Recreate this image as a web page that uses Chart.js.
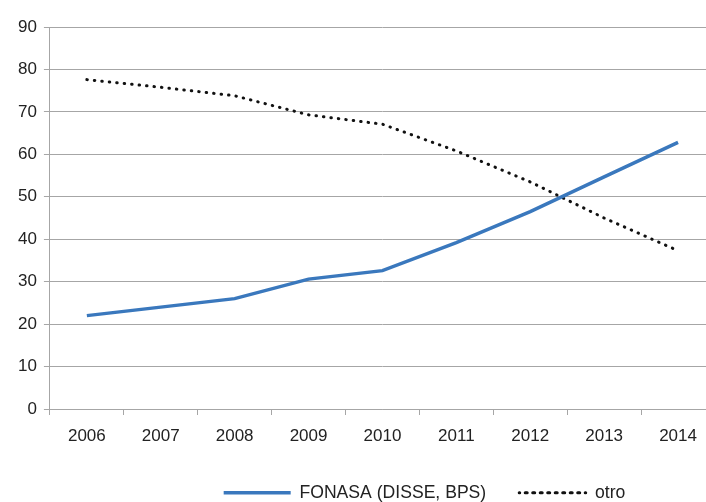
<!DOCTYPE html>
<html>
<head>
<meta charset="utf-8">
<script src="https://cdn.jsdelivr.net/npm/chart.js@4/dist/chart.umd.min.js"></script>
<style>
  html, body { margin: 0; padding: 0; background: #fff; overflow: hidden; }
  #wrap { width: 838px; height: 502px; }
</style>
</head>
<body>
<div id="wrap"><canvas id="grafico"></canvas></div>
<script>
const anos = ["2006", "2007", "2008", "2009", "2010", "2011", "2012", "2013", "2014"];
const fonasa = [22, 24, 26, 30.6, 32.6, 39.2, 46.5, 54.7, 62.8];
const otro = [77.6, 75.8, 73.8, 69.3, 67.1, 60.8, 53.5, 45, 37.3];

const fuente = "'Liberation Sans', Arial, sans-serif";
const gris = "#a6a6a6";

// leyenda con separación ancha entre elementos pero altura fija
const Leyenda = Chart.Legend._element;
const fitOriginal = Leyenda.prototype.fit;
Leyenda.prototype.fit = function () {
  fitOriginal.call(this);
  if (this.isHorizontal()) this.height = 51;
};

const ctx = document.getElementById("grafico");
const grafico = new Chart(ctx, {
  type: "line",
  data: {
    labels: anos,
    datasets: [
      {
        label: "FONASA (DISSE, BPS)",
        data: fonasa,
        borderColor: "#3a78bd",
        backgroundColor: "rgba(0,0,0,0)",
        borderWidth: 3.5,
        pointRadius: 0,
        tension: 0
      },
      {
        label: "otro",
        data: otro,
        borderColor: "#111",
        backgroundColor: "rgba(0,0,0,0)",
        borderWidth: 3,
        borderDash: [0.5, 7],
        borderCapStyle: "round",
        pointRadius: 0,
        tension: 0
      }
    ]
  },
  options: {
    responsive: true,
    maintainAspectRatio: false,
    animation: false,
    layout: { padding: { top: 27, left: 11, right: 0, bottom: 0 } },
    plugins: {
      legend: {
        position: "bottom",
        labels: {
          boxWidth: 67,
          boxHeight: 0,
          padding: 33,
          color: "#222",
          font: { family: fuente, size: 17.6 }
        }
      },
      tooltip: { enabled: false }
    },
    scales: {
      x: {
        offset: true,
        grid: { display: true, drawOnChartArea: false, offset: true, color: gris, tickLength: 6 },
        border: { color: gris },
        ticks: { color: "#222", font: { family: fuente, size: 17 }, padding: 11, maxRotation: 0 },
        afterFit: s => { s.height = 42; }
      },
      y: {
        min: 0,
        max: 90,
        ticks: { stepSize: 10, color: "#222", font: { family: fuente, size: 17 }, padding: 7 },
        grid: { color: gris, tickLength: 6 },
        border: { color: gris }
      },
      relleno: {
        position: "right",
        grid: { display: false },
        border: { display: false },
        ticks: { display: false },
        afterFit: s => { s.width = 123; }
      }
    }
  }
});
</script>
</body>
</html>
